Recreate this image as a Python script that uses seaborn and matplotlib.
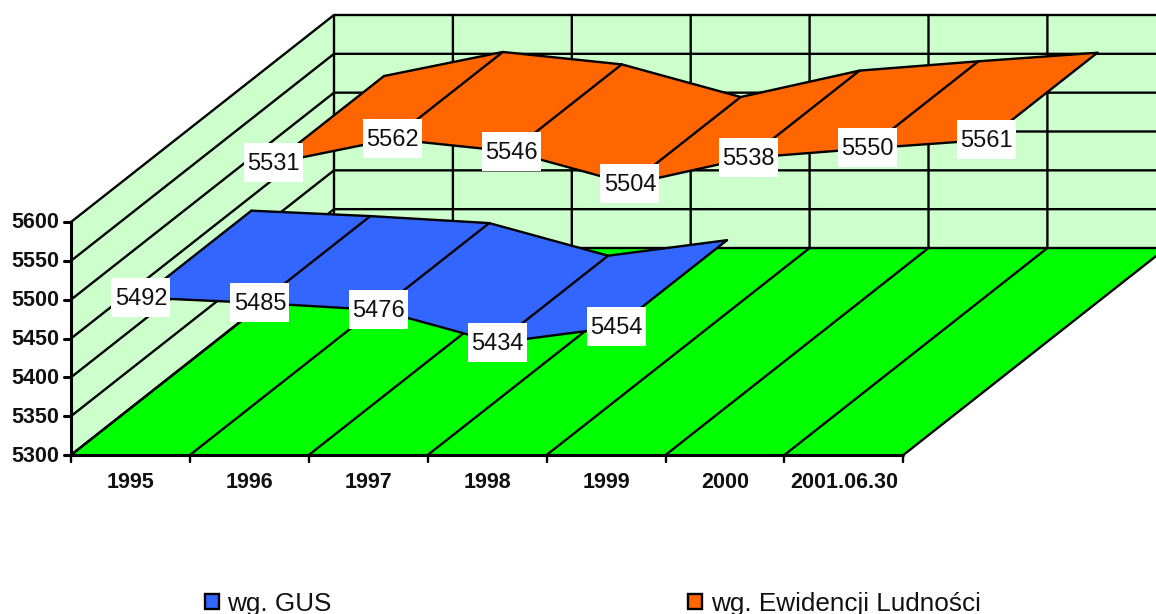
import matplotlib
matplotlib.use("Agg")
import matplotlib.pyplot as plt
from matplotlib.patches import Patch, Rectangle
import pandas as pd
import seaborn as sns

# values
years = ["1995", "1996", "1997", "1998", "1999", "2000", "2001.06.30"]
gus_values = [5492, 5485, 5476, 5434, 5454]
ewidencja_values = [5531, 5562, 5546, 5504, 5538, 5550, 5561]
value_ticks = [5300, 5350, 5400, 5450, 5500, 5550, 5600]

# fake 3d frame, everything goes through project()
left, base = 71, 455
cat_w = 118.9
unit_h = 233 / 300
depth_x, depth_y = 263, 207
line = "black"
lw = 1.7


def project(cat, value, depth):
    x = left + cat * cat_w + depth * depth_x
    y = base - (value - value_ticks[0]) * unit_h - depth * depth_y
    return x, y


def ribbon(values, front, back, color, z):
    rows = []
    for i, v in enumerate(values):
        rows.append({"x": project(i + 0.5, v, front)[0], "y": project(i + 0.5, v, front)[1], "edge": "front"})
        rows.append({"x": project(i + 0.5, v, back)[0], "y": project(i + 0.5, v, back)[1], "edge": "back"})
    df = pd.DataFrame(rows)
    for i in range(len(values) - 1):
        corners = [project(i + 0.5, values[i], front), project(i + 1.5, values[i + 1], front),
                   project(i + 1.5, values[i + 1], back), project(i + 0.5, values[i], back)]
        ax.fill([c[0] for c in corners], [c[1] for c in corners], color=color, lw=0, zorder=z)
        ax.plot([corners[1][0], corners[2][0]], [corners[1][1], corners[2][1]], color=line, lw=lw, zorder=z + 0.1)
    sns.lineplot(data=df, x="x", y="y", units="edge", estimator=None, sort=False, color=line,
                 lw=lw, ax=ax, zorder=z + 0.1)
    # outer side of the first segment
    a, b = project(0.5, values[0], front), project(0.5, values[0], back)
    ax.plot([a[0], b[0]], [a[1], b[1]], color=line, lw=lw, zorder=z + 0.1)
    for i, v in enumerate(values):
        x, y = project(i + 0.5, v, front)
        ax.add_patch(Rectangle((x - 29.5, y - 20), 59, 39, color="white", lw=0, zorder=10))
        ax.text(x, y + 1, str(v), ha="center", va="center", fontsize=17, color="#111111", zorder=11)


sns.set_theme(style="white")
plt.rcParams["font.family"] = ["Liberation Sans", "DejaVu Sans"]

fig = plt.figure(figsize=(11.56, 6.14), dpi=100)
ax = fig.add_axes([0, 0, 1, 1])
ax.set_xlim(0, 1156)
ax.set_ylim(614, 0)
ax.axis("off")

n = len(years)
top = value_ticks[-1]
bottom = value_ticks[0]

# walls and floor
corners = [project(0, bottom, 0), project(0, top, 0), project(0, top, 1), project(0, bottom, 1)]
ax.fill([c[0] for c in corners], [c[1] for c in corners], color="#CCFFCC", lw=0, zorder=1)
corners = [project(0, bottom, 1), project(0, top, 1), project(n, top, 1), project(n, bottom, 1)]
ax.fill([c[0] for c in corners], [c[1] for c in corners], color="#CCFFCC", lw=0, zorder=1)
corners = [project(0, bottom, 0), project(n, bottom, 0), project(n, bottom, 1), project(0, bottom, 1)]
ax.fill([c[0] for c in corners], [c[1] for c in corners], color="#00FF00", lw=0, zorder=1)

# gridlines
for v in value_ticks:
    pts = [project(0, v, 0), project(0, v, 1), project(n, v, 1)]
    ax.plot([p[0] for p in pts], [p[1] for p in pts], color=line, lw=lw, zorder=2)
for i in range(n + 1):
    pts = [project(i, bottom, 0), project(i, bottom, 1), project(i, top, 1)]
    ax.plot([p[0] for p in pts], [p[1] for p in pts], color=line, lw=lw, zorder=2)

# ribbons, back one first
ribbon(ewidencja_values, 0.543, 0.964, "#FF6600", 3)
ribbon(gus_values, 0.04, 0.46, "#3366FF", 5)

# axes on the front
a, b = project(0, bottom, 0), project(0, top, 0)
ax.plot([a[0], b[0]], [a[1], b[1]], color=line, lw=2.2, zorder=8)
a, b = project(0, bottom, 0), project(n, bottom, 0)
ax.plot([a[0], b[0]], [a[1], b[1]], color=line, lw=2.2, zorder=8)
for v in value_ticks:
    x, y = project(0, v, 0)
    ax.plot([x - 7, x], [y, y], color=line, lw=2.2, zorder=8)
    ax.text(x - 12, y + 1, str(v), ha="right", va="center", fontsize=15.5, fontweight="bold", color="#111111")
for i in range(n + 1):
    x, y = project(i, bottom, 0)
    ax.plot([x, x], [y, y + 7], color=line, lw=1.7, zorder=8)
for i, label in enumerate(years):
    x, y = project(i + 0.5, bottom, 0)
    ax.text(x, y + 28, label, ha="center", va="center", fontsize=15.5, fontweight="bold", color="#111111")

handles = [Patch(facecolor="#3366FF", edgecolor="black", lw=1.7),
           Patch(facecolor="#FF6600", edgecolor="black", lw=1.7)]
ax.legend(handles, ["wg. GUS", "wg. Ewidencji Ludności"], ncols=2, frameon=False, fontsize=18.8,
          loc="lower left", bbox_to_anchor=(205 / 1156, -0.003), borderaxespad=0, borderpad=0,
          columnspacing=13.65, handlelength=0.52, handleheight=0.55, handletextpad=0.34,
          labelcolor="#111111")

plt.savefig("out.png", dpi=100)
plt.close()
